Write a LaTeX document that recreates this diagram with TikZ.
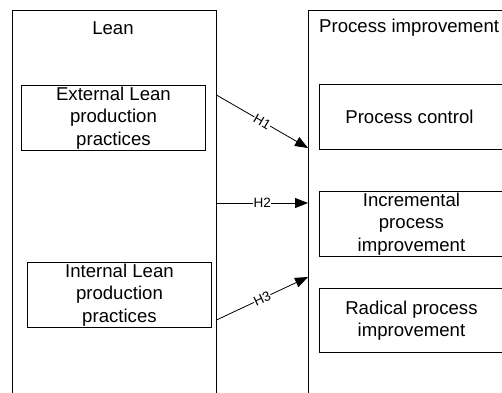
\documentclass[tikz,border=0pt]{standalone}
\usepackage{fontspec}
\setmainfont{Liberation Sans}
\usetikzlibrary{arrows.meta}
\tikzset{
  outerbox/.style={draw, line width=0.9pt, anchor=north west, inner sep=0pt},
  innerbox/.style={draw, line width=0.9pt, anchor=north west, inner sep=0pt},
  txt/.style={align=center, inner sep=0pt, font=\fontsize{18.6}{22.5}\selectfont},
  hyp/.style={line width=0.8pt, -{Triangle[length=13pt,width=10pt]}},
  hlabel/.style={fill=white, inner sep=0.3pt, font=\fontsize{13.5}{15}\selectfont}
}
\begin{document}
\begin{tikzpicture}[x=1pt,y=-1pt]
\useasboundingbox (0,0) rectangle (502,392);
\clip (0,0) rectangle (502,392);
% outer boxes
\node[outerbox, minimum width=204.5pt, minimum height=420pt] (lean) at (11.5,9.5) {};
\node[outerbox, minimum width=210pt, minimum height=420pt] (pi) at (308,9.5) {};
\node[txt] (leant) at (113,28) {Lean};
\node[txt, anchor=west] (pit) at (319,28) {Process improvement};
% left inner boxes
\node[innerbox, minimum width=184pt, minimum height=65pt] (ext) at (21,85) {};
\node[txt] (extt) at (ext.center) {External Lean\\production\\practices};
\node[innerbox, minimum width=184pt, minimum height=65pt] (int) at (27,262) {};
\node[txt] (intt) at (int.center) {Internal Lean\\production\\practices};
% right inner boxes
\node[innerbox, minimum width=184pt, minimum height=65pt] (pc) at (319,84) {};
\node[txt] (pct) at ([xshift=-2pt]pc.center) {Process control};
\node[innerbox, minimum width=184pt, minimum height=65pt] (inc) at (319,191) {};
\node[txt] (inct) at (inc.center) {Incremental\\process\\improvement};
\node[innerbox, minimum width=184pt, minimum height=64pt] (rad) at (319,288) {};
\node[txt] (radt) at (rad.center) {Radical process\\improvement};
% connector end points on the outer boxes
\coordinate (h1s) at (216.5,95);
\coordinate (h1e) at (308,148);
\coordinate (h2s) at (216.5,203);
\coordinate (h2e) at (308,203);
\coordinate (h3s) at (216.5,320);
\coordinate (h3e) at (308,277);
\draw[hyp] (h1s) -- node[hlabel, sloped] (l1) {H1} (h1e);
\draw[hyp] (h2s) -- node[hlabel] (l2) {H2} (h2e);
\draw[hyp] (h3s) -- node[hlabel, sloped] (l3) {H3} (h3e);
\end{tikzpicture}
\end{document}
